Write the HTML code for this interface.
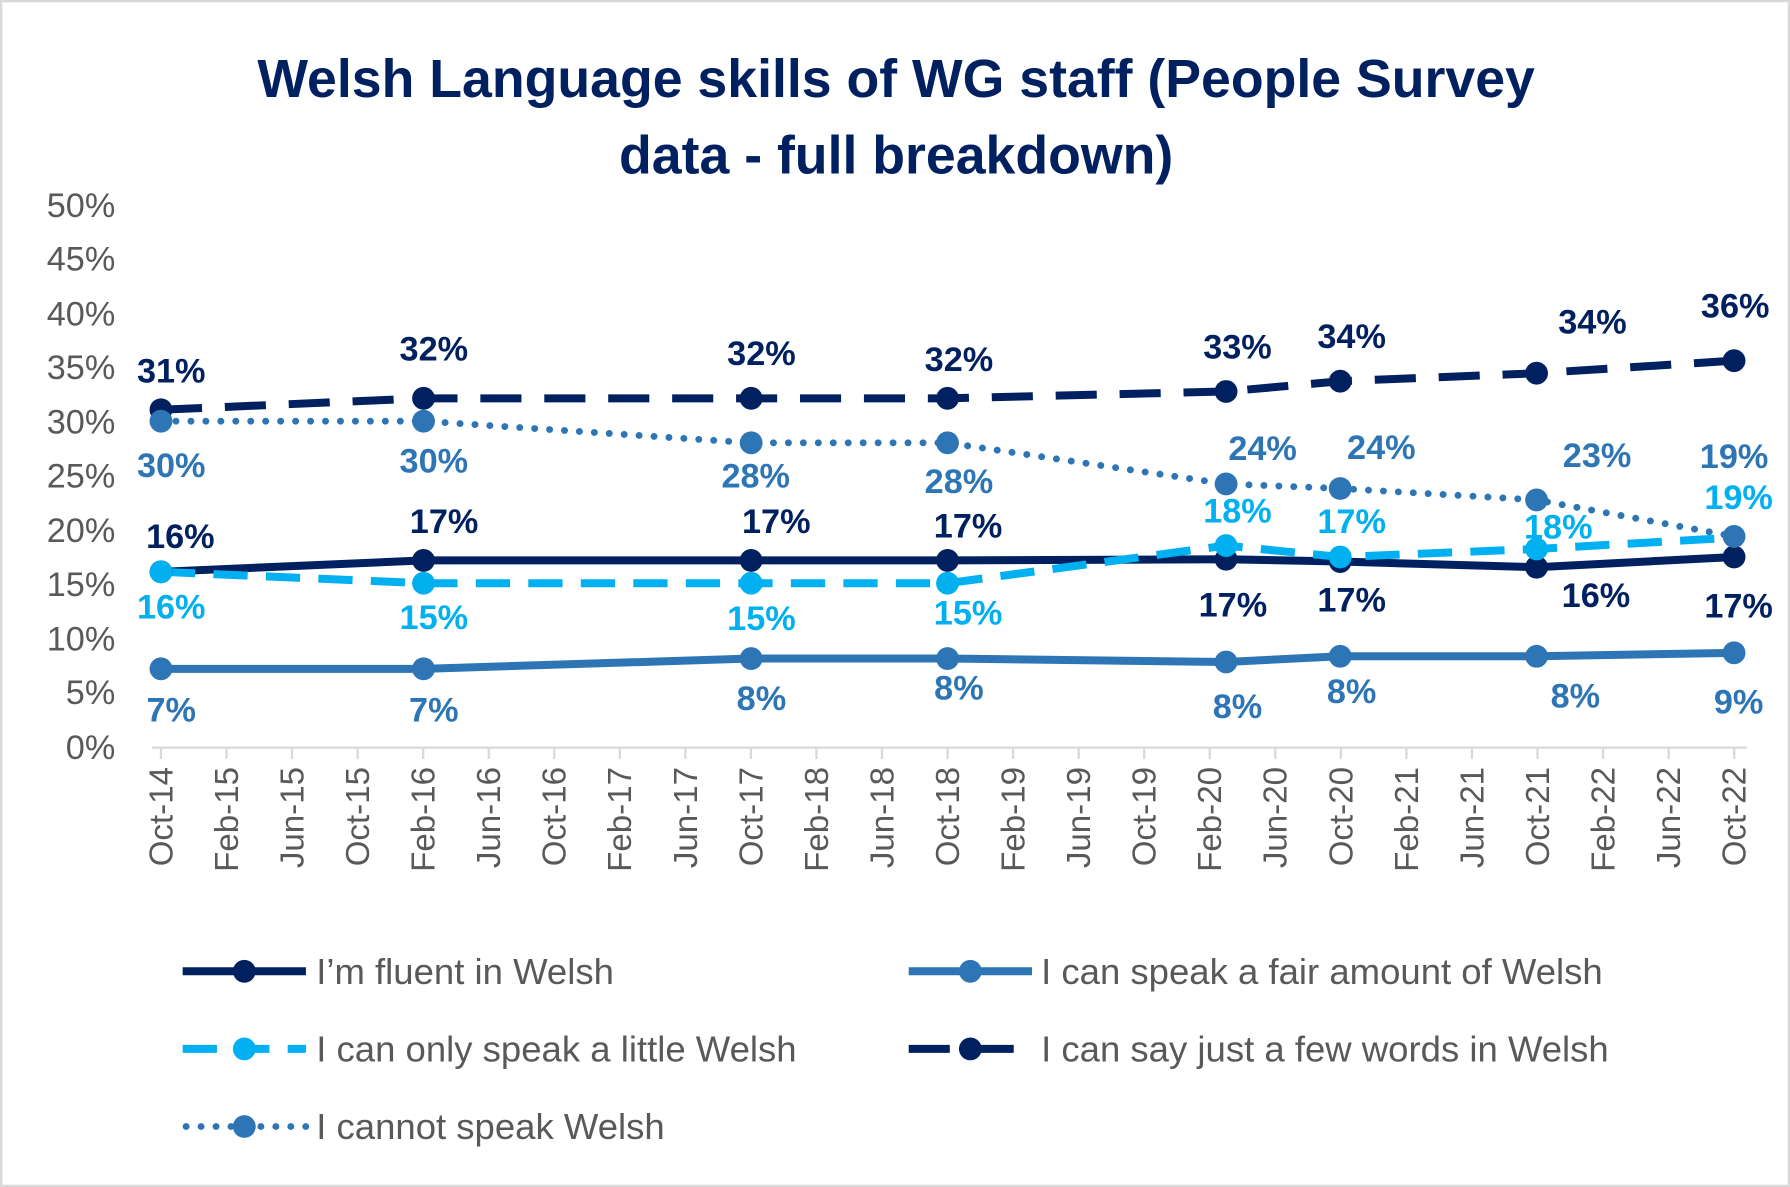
<!DOCTYPE html>
<html><head><meta charset="utf-8"><style>
html,body{margin:0;padding:0;background:#fff;}
svg{display:block;}
text{font-family:"Liberation Sans",sans-serif;}
</style></head><body>
<svg width="1790" height="1187" viewBox="0 0 1568 1040" preserveAspectRatio="none" xmlns="http://www.w3.org/2000/svg">
<rect x="1" y="1" width="1566" height="1038" fill="#fff" stroke="#d9d9d9" stroke-width="2"/>
<g fill="#002060" font-weight="bold" font-size="47" text-anchor="middle">
<text x="785" y="85">Welsh Language skills of WG staff (People Survey</text>
<text x="785" y="152">data - full breakdown)</text>
</g>
<g fill="#595959" font-size="30" text-anchor="end">
<text x="101" y="190">50%</text><text x="101" y="237">45%</text><text x="101" y="285">40%</text>
<text x="101" y="332">35%</text><text x="101" y="380">30%</text><text x="101" y="427">25%</text>
<text x="101" y="475">20%</text><text x="101" y="522">15%</text><text x="101" y="570">10%</text>
<text x="101" y="617">5%</text><text x="101" y="665">0%</text>
</g>
<line x1="133" y1="655" x2="1530" y2="655" stroke="#d9d9d9" stroke-width="2"/>
<g stroke="#d9d9d9" stroke-width="2" id="ticks"></g>
<g fill="#595959" font-size="29" id="xl"></g>
<polyline fill="none" stroke="#002060" stroke-width="7" stroke-dasharray="36,20" points="141,359 371,349 658,349 830,349 1074,343 1174,334 1346,327 1519,316"/>
<polyline fill="none" stroke="#2E75B6" stroke-width="6" stroke-linecap="round" stroke-dasharray="0.1,13" points="141,369 371,369 658,388 830,388 1074,424 1174,428 1346,438 1519,470"/>
<polyline fill="none" stroke="#2E75B6" stroke-width="7" points="141,586 371,586 658,577 830,577 1074,580 1174,575 1346,575 1519,572"/>
<polyline fill="none" stroke="#002060" stroke-width="7" points="141,501 371,491 658,491 830,491 1074,490 1174,492 1346,497 1519,488"/>
<polyline fill="none" stroke="#00B0F0" stroke-width="7" stroke-dasharray="30,16" points="141,501 371,511 658,511 830,511 1074,478 1174,488 1346,481 1519,471"/>
<g fill="#002060">
<circle cx="141" cy="359" r="10"/><circle cx="371" cy="349" r="10"/><circle cx="658" cy="349" r="10"/><circle cx="830" cy="349" r="10"/><circle cx="1074" cy="343" r="10"/><circle cx="1174" cy="334" r="10"/><circle cx="1346" cy="327" r="10"/><circle cx="1519" cy="316" r="10"/>
<circle cx="141" cy="501" r="10"/><circle cx="371" cy="491" r="10"/><circle cx="658" cy="491" r="10"/><circle cx="830" cy="491" r="10"/><circle cx="1074" cy="490" r="10"/><circle cx="1174" cy="492" r="10"/><circle cx="1346" cy="497" r="10"/><circle cx="1519" cy="488" r="10"/>
</g>
<g fill="#2E75B6">
<circle cx="141" cy="369" r="10"/><circle cx="371" cy="369" r="10"/><circle cx="658" cy="388" r="10"/><circle cx="830" cy="388" r="10"/><circle cx="1074" cy="424" r="10"/><circle cx="1174" cy="428" r="10"/><circle cx="1346" cy="438" r="10"/><circle cx="1519" cy="470" r="10"/>
<circle cx="141" cy="586" r="10"/><circle cx="371" cy="586" r="10"/><circle cx="658" cy="577" r="10"/><circle cx="830" cy="577" r="10"/><circle cx="1074" cy="580" r="10"/><circle cx="1174" cy="575" r="10"/><circle cx="1346" cy="575" r="10"/><circle cx="1519" cy="572" r="10"/>
</g>
<g fill="#00B0F0">
<circle cx="141" cy="501" r="10"/><circle cx="371" cy="511" r="10"/><circle cx="658" cy="511" r="10"/><circle cx="830" cy="511" r="10"/><circle cx="1074" cy="478" r="10"/><circle cx="1174" cy="488" r="10"/><circle cx="1346" cy="481" r="10"/>
</g>
<g font-size="30" font-weight="bold" text-anchor="middle">
<g fill="#002060">
<text x="150" y="335">31%</text><text x="380" y="316">32%</text><text x="667" y="320">32%</text><text x="840" y="325">32%</text><text x="1084" y="314">33%</text><text x="1184" y="305">34%</text><text x="1395" y="292">34%</text><text x="1520" y="278">36%</text>
<text x="158" y="480">16%</text><text x="389" y="467">17%</text><text x="680" y="467">17%</text><text x="848" y="471">17%</text><text x="1080" y="540">17%</text><text x="1184" y="536">17%</text><text x="1398" y="532">16%</text><text x="1523" y="541">17%</text>
</g>
<g fill="#2E75B6">
<text x="150" y="418">30%</text><text x="380" y="414">30%</text><text x="662" y="427">28%</text><text x="840" y="432">28%</text><text x="1106" y="403">24%</text><text x="1210" y="402">24%</text><text x="1399" y="409">23%</text><text x="1519" y="410">19%</text>
<text x="150" y="632">7%</text><text x="380" y="632">7%</text><text x="667" y="622">8%</text><text x="840" y="613">8%</text><text x="1084" y="629">8%</text><text x="1184" y="616">8%</text><text x="1380" y="620">8%</text><text x="1523" y="625">9%</text>
</g>
<g fill="#00B0F0">
<text x="150" y="542">16%</text><text x="380" y="551">15%</text><text x="667" y="552">15%</text><text x="848" y="547">15%</text><text x="1084" y="458">18%</text><text x="1184" y="467">17%</text><text x="1365" y="472">18%</text><text x="1523" y="446">19%</text>
</g>
</g>
<g font-size="32" fill="#595959">
<line x1="160" y1="851" x2="268" y2="851" stroke="#002060" stroke-width="7"/><circle cx="214" cy="851" r="10" fill="#002060"/>
<text x="277" y="862">I’m fluent in Welsh</text>
<line x1="796" y1="851" x2="904" y2="851" stroke="#2E75B6" stroke-width="7"/><circle cx="850" cy="851" r="10" fill="#2E75B6"/>
<text x="912" y="862">I can speak a fair amount of Welsh</text>
<line x1="160" y1="919" x2="268" y2="919" stroke="#00B0F0" stroke-width="7" stroke-dasharray="30,16"/><circle cx="214" cy="919" r="10" fill="#00B0F0"/>
<text x="277" y="930">I can only speak a little Welsh</text>
<line x1="796" y1="919" x2="904" y2="919" stroke="#002060" stroke-width="7" stroke-dasharray="36,20"/><circle cx="850" cy="919" r="10" fill="#002060"/>
<text x="912" y="930">I can say just a few words in Welsh</text>
<line x1="163" y1="987" x2="268" y2="987" stroke="#2E75B6" stroke-width="6" stroke-linecap="round" stroke-dasharray="0.1,13"/><circle cx="214" cy="987" r="10" fill="#2E75B6"/>
<text x="277" y="998">I cannot speak Welsh</text>
</g>
<script>
(function(){
var ns="http://www.w3.org/2000/svg";
var t=document.getElementById("ticks"),xl=document.getElementById("xl");
var m=["Oct","Feb","Jun"];
for(var k=0;k<=24;k++){
var x=141+k*57.42;
var l=document.createElementNS(ns,"line");
l.setAttribute("x1",x);l.setAttribute("x2",x);l.setAttribute("y1",655);l.setAttribute("y2",665);t.appendChild(l);
var mon=m[k%3];
var yr=(k%3==0)?14+k/3:14+Math.floor((k+2)/3);
var s=document.createElementNS(ns,"text");
s.setAttribute("transform","translate("+(x+10)+",672) rotate(-90)");
s.setAttribute("text-anchor","end");
s.textContent=mon+"-"+yr;
xl.appendChild(s);
}
})();
</script>
</svg>
</body></html>
